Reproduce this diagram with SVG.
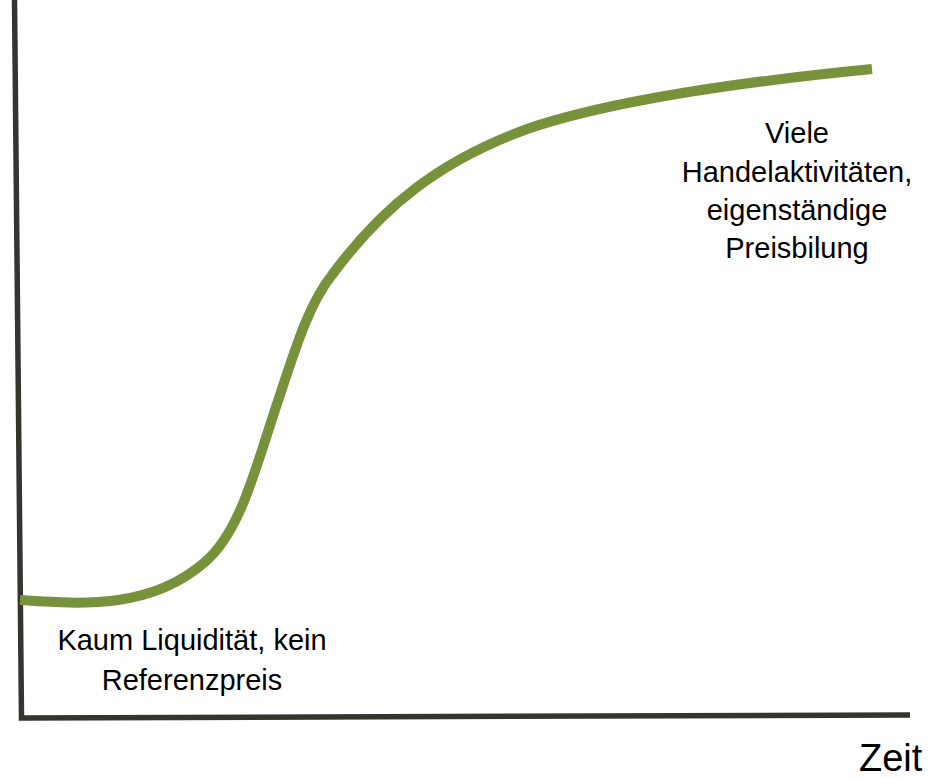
<svg xmlns="http://www.w3.org/2000/svg" width="935" height="779" viewBox="0 0 935 779">
<style>
.axis{fill:none;stroke:#34352f;stroke-width:5.5;stroke-linejoin:miter}
.curve{fill:none;stroke:#77923a;stroke-width:10;stroke-linecap:butt}
.lbl{font-family:"Liberation Sans",Arial,sans-serif;font-size:29px;fill:#000;text-anchor:middle}
.zeit{font-family:"Liberation Sans",Arial,sans-serif;font-size:38px;fill:#000}
</style>
<rect width="935" height="779" fill="#fff"/>
<g id="connectors">
<path class="axis" d="M14.5,0 L21.5,718 L910,715"/>
<path id="s-curve" class="curve" d="M20,600 C80,604 150,610 205,562 C240,532 255,470 275,410 C295,350 308,305 332,275 C382,207 440,160 530,128 C620,98 760,80 872,69"/>
</g>
<g id="label-low">
<text class="lbl" x="192" y="650">Kaum Liquidität, kein</text>
<text class="lbl" x="192" y="690">Referenzpreis</text>
</g>
<g id="label-high">
<text class="lbl" x="797" y="143">Viele</text>
<text class="lbl" x="797" y="182">Handelaktivitäten,</text>
<text class="lbl" x="797" y="220">eigenständige</text>
<text class="lbl" x="797" y="258">Preisbilung</text>
</g>
<g id="axis-label">
<text class="zeit" x="859" y="771">Zeit</text>
</g>
</svg>
